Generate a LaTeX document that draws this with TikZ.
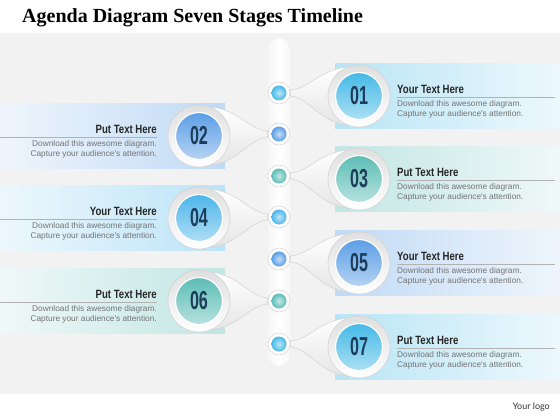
\documentclass[tikz,border=0pt]{standalone}
\usepackage{fontspec}
\setmainfont{Liberation Serif}
\newfontfamily\headfont[FakeStretch=0.8]{Liberation Sans}
\newfontfamily\numfont[FakeStretch=0.62]{Liberation Sans}
\newfontfamily\bodyfont{Liberation Sans}
\newfontfamily\logofont{Lato}

\definecolor{cyanC}{HTML}{45B9E6}
\definecolor{blueC}{HTML}{5C9EE5}
\definecolor{tealC}{HTML}{5DBDB6}
\definecolor{skyC}{HTML}{4DB6EA}
\definecolor{navyC}{HTML}{1E3D5A}
\definecolor{paperC}{HTML}{F2F2F2}

\pgfdeclarelayer{back}
\pgfdeclarelayer{mid}
\pgfsetlayers{back,mid,main}

\begin{document}
\begin{tikzpicture}[
                        x=1pt,
                        y=-1pt,
                        banner/.style={minimum width=225, minimum height=65, inner sep=0},
                        ring/.style={circle, minimum size=62, inner sep=0, draw=gray!35, line width=0.6, top color=gray!25, bottom color=white},
                        disc/.style={circle, minimum size=47, inner sep=0, draw=white, line width=1.2, text=navyC, font=\numfont\bfseries\fontsize{26}{26}\selectfont},
                        dotring/.style={circle, minimum size=22, inner sep=0, fill=white, draw=gray!30, line width=0.6},
                        dotball/.style={circle, minimum size=15, inner sep=0},
                        tear/.style={draw=gray!35, line width=0.5, top color=white, bottom color=gray!20},
                        head/.style={inner sep=0, text=black!85, font=\headfont\bfseries\fontsize{12}{12}\selectfont},
                        desc/.style={inner sep=0, text=black!55, font=\bodyfont\fontsize{8.3}{10}\selectfont},
                        rule/.style={draw=gray!60, line width=0.6}
                    ]
                    \useasboundingbox (0,0) rectangle (560,420);
                    \begin{pgfonlayer}{back}
                    \fill[white] (0,0) rectangle (560,420);
                    \fill[paperC] (0,33) rectangle (560,394);
                    \node[minimum width=22, minimum height=327, inner sep=0, rounded corners=11, left color=gray!7, right color=gray!7, middle color=white] (bar) at (279,202) {};
                    \end{pgfonlayer}

                    \node[anchor=base west, inner sep=0, font=\bfseries\fontsize{20}{24}\selectfont] (title) at (22,23) {Agenda Diagram Seven Stages Timeline};
                    \node[anchor=base east, inner sep=0, text=black!80, font=\logofont\fontsize{9}{10}\selectfont] (logo) at (550,409) {Your logo};

                    % stages: number / side / circle y / dot y / colour / heading
                    \foreach \n/\s/\yc/\yd/\col/\head in {
                        01/1/96/93/cyanC/Your Text Here,
                        02/-1/136/134/blueC/Put Text Here,
                        03/1/179/176/tealC/Put Text Here,
                        04/-1/218/217/skyC/Your Text Here,
                        05/1/263/259/blueC/Your Text Here,
                        06/-1/301/301/tealC/Put Text Here,
                        07/1/347/344/cyanC/Put Text Here}
                    {
                        \pgfmathtruncatemacro\aup{90+22*\s}
                        \pgfmathtruncatemacro\adown{270-22*\s}
                        \pgfmathtruncatemacro\tip{90-90*\s}

                        \node[ring] (r\n) at ({279+80*\s},\yc) {};
                        \node[disc, top color=\col, bottom color=\col!45!white] (c\n) at (r\n) {\n};
                        \node[dotring] (d\n) at (279,\yd) {};
                        \node[dotball, inner color=\col!35!white, outer color=\col] (p\n) at (d\n) {};

                        \begin{pgfonlayer}{mid}
                        \path[tear] (r\n.\aup) .. controls +({-28*\s},3) and +({18*\s},-1) .. ([yshift=3pt]d\n.\tip)
                            -- ([yshift=-3pt]d\n.\tip) .. controls +({18*\s},1) and +({-28*\s},-3) .. (r\n.\adown)
                            -- (r\n.center) -- cycle;
                        \end{pgfonlayer}

                        \ifnum\s=1
                            \begin{pgfonlayer}{back}
                            \node[banner, left color=\col!38!white, right color=\col!10!white] (b\n) at (447.5,\yc) {};
                            \end{pgfonlayer}
                            \node[head, anchor=base west] (h\n) at (397,{\yc-3}) {\head};
                            \draw[rule] (397,{\yc+1.5}) -- (555,{\yc+1.5});
                            \node[desc, anchor=north west, align=left] (t\n) at (397,{\yc+4.5}) {Download this awesome diagram.\\Capture your audience's attention.};
                        \else
                            \begin{pgfonlayer}{back}
                            \node[banner, left color=\col!10!white, right color=\col!38!white] (b\n) at (112.5,\yc) {};
                            \end{pgfonlayer}
                            \node[head, anchor=base east] (h\n) at (157,{\yc-3}) {\head};
                            \draw[rule] (0,{\yc+1.5}) -- (157,{\yc+1.5});
                            \node[desc, anchor=north east, align=right] (t\n) at (157,{\yc+4.5}) {Download this awesome diagram.\\Capture your audience's attention.};
                        \fi
                    }
                \end{tikzpicture}
\end{document}
